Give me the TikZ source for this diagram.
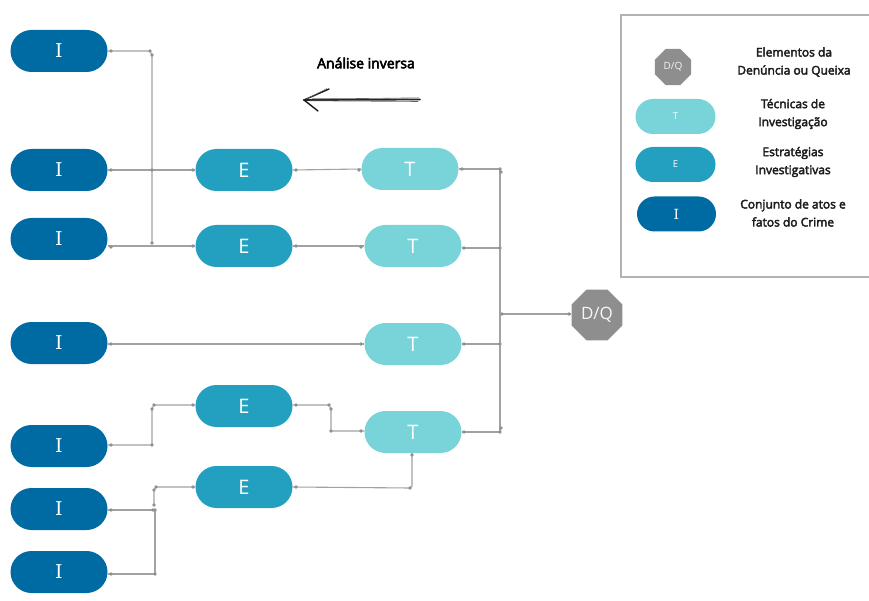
\documentclass[tikz,border=0pt]{standalone}
\usepackage{fontspec}
\setmainfont{Open Sans}
\newfontfamily\letterserif{DejaVu Serif}
\usetikzlibrary{shapes.misc,shapes.geometric}

\definecolor{actcol}{HTML}{006AA3}
\definecolor{stratcol}{HTML}{23A0BF}
\definecolor{techcol}{HTML}{78D4D8}
\definecolor{dqcol}{HTML}{8E8E8E}
\definecolor{wirecol}{HTML}{A2A2A2}
\definecolor{dotcol}{HTML}{909090}
\definecolor{legtext}{HTML}{1E1E1E}

% text drawn with a thin outline, giving a medium weight
\newcommand\heavier[2]{\special{pdf:literal direct 2 Tr #1 w}#2\special{pdf:literal direct 0 Tr}}
\newcommand\wdot[1]{\fill[dotcol] #1 circle (1.8pt);}

\tikzset{
  pill/.style={rounded rectangle, minimum width=97pt, minimum height=42pt,
    inner sep=0pt, text=white, font=\fontsize{20}{20}\selectfont},
  actnode/.style={pill, fill=actcol, font=\letterserif\fontsize{19}{19}\selectfont},
  stratnode/.style={pill, fill=stratcol},
  technode/.style={pill, fill=techcol},
  smallpill/.style={rounded rectangle, minimum width=80pt, minimum height=35pt,
    inner sep=0pt, text=white, font=\fontsize{9.5}{9.5}\selectfont},
  octo/.style={regular polygon, regular polygon sides=8, fill=dqcol, inner sep=0pt,
    text=white!92!dqcol},
  wire/.style={draw=wirecol, line width=1.1pt},
  legendlabel/.style={align=center, text=legtext, font=\fontsize{12}{18}\selectfont},
}

\begin{document}
\begin{tikzpicture}[x=1pt, y=-1pt]
\useasboundingbox (0,0) rectangle (869,601);

% ---- acts and facts of the crime
\node[actnode] (I1) at (59,51)  {I};
\node[actnode] (I2) at (59,170) {I};
\node[actnode] (I3) at (59,239) {I};
\node[actnode] (I4) at (59,343) {I};
\node[actnode] (I5) at (59,446) {I};
\node[actnode] (I6) at (59,509) {I};
\node[actnode] (I7) at (59,572) {I};

% ---- investigative strategies
\node[stratnode] (E1) at (244,170) {E};
\node[stratnode] (E2) at (244,246) {E};
\node[stratnode] (E3) at (244,406) {E};
\node[stratnode] (E4) at (244,487) {E};

% ---- investigation techniques
\node[technode] (T1) at (410,169) {T};
\node[technode] (T2) at (413,246) {T};
\node[technode] (T3) at (413,344) {T};
\node[technode] (T4) at (413,432) {T};

% ---- complaint elements
\node[octo, minimum size=55pt, font=\fontsize{17}{17}\selectfont] (DQ) at (597,315) {D/Q};

% ---- upper group: three acts feeding two strategies
\coordinate (ja) at (150,51);
\coordinate (jb) at (152,55);
\coordinate (jc) at (152,243);
\draw[wire] (I1.east) -- (ja) -- (jb) -- (jc);
\draw[wire] (I2.east) -- (E1.west);
\draw[wire] (I3.east |- E2.west) -- (E2.west);
\foreach \p in {(111,51),(ja),(jb),(jc),(111,170),(152,170),(193,170),(111,247),(193,246)} {\wdot{\p}}

\draw[wire] (E1.east) -- (T1.west);
\draw[wire] (E2.east) -- (T2.west);
\foreach \p in {(296,170),(359,170),(296,246),(361,247)} {\wdot{\p}}

% ---- direct act to technique
\draw[wire] (I4.east |- T3.west) -- (T3.west);
\foreach \p in {(111,344),(361,344)} {\wdot{\p}}

% ---- lower group
\coordinate (ka) at (152,445);
\coordinate (kb) at (152,409);
\coordinate (kc) at (154,405);
\draw[wire] (I5.east |- ka) -- (ka) -- (kb) -- (kc) -- (E3.west |- kc);
\foreach \p in {(111,445),(ka),(kb),(kc),(193,405)} {\wdot{\p}}

\coordinate (ma) at (329,405);
\coordinate (mb) at (331,409);
\coordinate (mc) at (331,431);
\draw[wire] (E3.east |- ma) -- (ma) -- (mb) -- (mc) -- (T4.west |- mc);
\foreach \p in {(296,405),(ma),(mb),(mc),(361,431)} {\wdot{\p}}

\coordinate (na) at (153,510);
\coordinate (nb) at (155,574);
\coordinate (nc) at (155,510);
\coordinate (nd) at (154,505);
\coordinate (ne) at (154,490);
\coordinate (nf) at (156,487);
\draw[wire] (I6.east |- na) -- (na);
\draw[wire] (I7.east |- nb) -- (nb) -- (nc);
\draw[wire] (nd) -- (ne) -- (nf) -- (E4.west |- nf);
\foreach \p in {(111,510),(na),(111,574),(nb),(nc),(nd),(ne),(nf),(193,487)} {\wdot{\p}}

\coordinate (pa) at (410,488);
\coordinate (pb) at (412,486);
\draw[wire] (E4.east) -- (pa) -- (pb) -- (T4.south -| pb);
\foreach \p in {(296,487),(pa),(412,455)} {\wdot{\p}}

% ---- techniques converge on the complaint elements
\coordinate (tt) at (500,169);
\coordinate (tb) at (500,432);
\coordinate (tm) at (502,314);
\draw[wire] (T1.east) -- (tt) -- (tb);
\draw[wire] (T2.east |- 0,248) -- (500,248);
\draw[wire] (T3.east) -- (500,344);
\draw[wire] (T4.east) -- (tb);
\draw[wire] (tm) -- (DQ.west |- tm);
\foreach \p in {(462,169),(tt),(501,172),(464,248),(500,248),(464,344),(500,344),(464,432),(tb),(501,428),(tm),(569,314)} {\wdot{\p}}

% ---- reverse analysis arrow
\node[font=\fontsize{14}{14}\selectfont, text=black] (lbl) at (366,63) {\heavier{0.55}{Análise inversa}};
\coordinate (as) at (420,99.5);
\coordinate (ae) at (304,100);
\draw[line width=1.8pt, line cap=round, black!85] (as) -- (ae);
\draw[line width=0.6pt, line cap=round, black!60] (419,97.8) .. controls (370,98.5) .. (312,98.8);
\draw[line width=0.6pt, line cap=round, black!60] (418,101.5) .. controls (370,101.2) .. (310,100.8);
\draw[line width=1.4pt, line cap=round, black!90] (329,89) -- (ae) -- (318,111);
\draw[line width=0.5pt, line cap=round, black!60] (327,88.5) -- (306,99.3);

% ---- legend
\draw[draw=black!30, line width=1.2pt] (875,15) -- (621,15) -- (621,277) -- (875,277);
\node[octo, minimum size=39pt, font=\fontsize{10}{10}\selectfont] (lgDQ) at (673,67) {D/Q};
\node[smallpill, fill=techcol] (lgT) at (675.5,116.5) {T};
\node[smallpill, fill=stratcol] (lgE) at (675.5,164.5) {E};
\node[smallpill, fill=actcol, minimum width=79pt, font=\letterserif\fontsize{14}{14}\selectfont] (lgI) at (676.5,214) {I};
\node[legendlabel] (lgDQt) at (794,62) {\heavier{0.4}{Elementos da}\\\heavier{0.4}{Denúncia ou Queixa}};
\node[legendlabel] (lgTt) at (793,114) {\heavier{0.4}{Técnicas de}\\\heavier{0.4}{Investigação}};
\node[legendlabel] (lgEt) at (793,162) {\heavier{0.4}{Estratégias}\\\heavier{0.4}{Investigativas}};
\node[legendlabel] (lgIt) at (793,213) {\heavier{0.4}{Conjunto de atos e}\\\heavier{0.4}{fatos do Crime}};
\end{tikzpicture}
\end{document}
